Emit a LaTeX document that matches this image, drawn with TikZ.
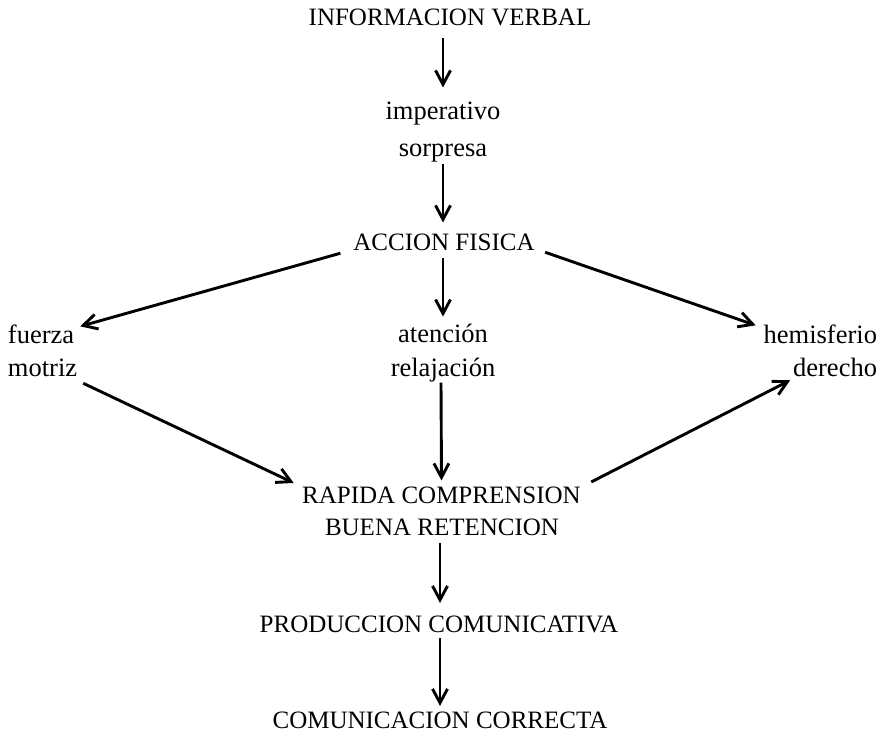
\documentclass[tikz,border=0pt]{standalone}
\usepackage{fontspec}
\setmainfont{Liberation Serif}
\usetikzlibrary{arrows.meta,calc}
\begin{document}
\begin{tikzpicture}[x=1pt,y=-1pt,
  lbl/.style={inner sep=0pt,outer sep=0pt,anchor=base,font=\fontsize{25}{30}\selectfont},
  low/.style={lbl,font=\fontsize{26.5}{30}\selectfont},
  arr/.style={line width=2.9pt,-{Straight Barb[length=14pt,width=15pt]}}]
\useasboundingbox (0,0) rectangle (882,733);
% nodes
\node[lbl] (info)   at (450,26)  {INFORMACION VERBAL};
\node[low] (imp)    at (443,119) {imperativo};
\node[low] (sorp)   at (443,156) {sorpresa};
\node[lbl] (accion) at (444,250) {ACCION FISICA};
\node[low,anchor=base west] (fuerza) at (8,343) {fuerza};
\node[low,anchor=base west] (motriz) at (8,376) {motriz};
\node[low] (aten)   at (443,342) {atención};
\node[low] (relaj)  at (443,376) {relajación};
\node[low,anchor=base east] (hemis)  at (877,343) {hemisferio};
\node[low,anchor=base east] (derecho) at (877,376) {derecho};
\node[lbl] (rapida) at (441.5,503) {RAPIDA COMPRENSION};
\node[lbl] (buena)  at (442,535) {BUENA RETENCION};
\node[lbl] (prod)   at (439,632) {PRODUCCION COMUNICATIVA};
\node[lbl] (comun)  at (440,728) {COMUNICACION CORRECTA};
% connectors
\draw[arr] ($(info.south)+(-7,12)$) -- ($(imp.north)+(0,-14)$);
\draw[arr] ($(sorp.south)+(0,2)$) -- ($(accion.north)+(-1,-11)$);
\draw[arr] ($(accion.south west)+(-13,3)$) -- ($(fuerza.north east)+(6,2)$);
\draw[arr] ($(accion.south)+(-1,8)$) -- ($(aten.north)+(0,-7)$);
\draw[arr] ($(accion.south east)+(10.5,2)$) -- ($(hemis.north west)+(-8,1)$);
\draw[arr] ($(motriz.south east)+(6,7)$) -- ($(rapida.north west)+(-8.5,-3.5)$);
\draw[arr] ($(relaj.south)+(-2,1)$) -- ($(rapida.north)+(0,-6)$);
\draw[arr] ($(rapida.north east)+(10.5,-4.5)$) -- ($(derecho.south west)+(-3,4)$);
\draw[arr] ($(buena.south)+(-2,8)$) -- ($(prod.north)+(1,-12.5)$);
\draw[arr] ($(prod.south)+(1,6)$) -- ($(comun.north)+(0,-5.5)$);
\end{tikzpicture}
\end{document}
